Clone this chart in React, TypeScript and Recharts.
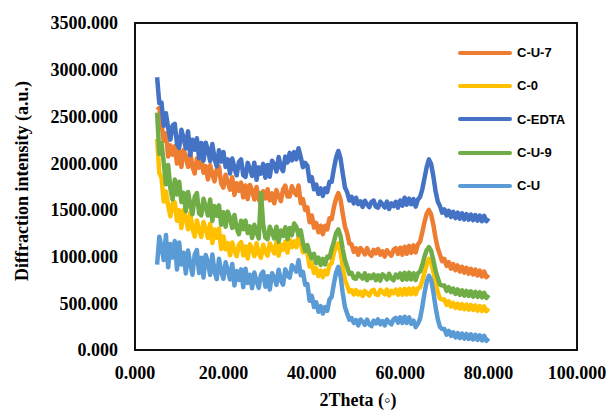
import React from "react";
import { LineChart, Line, XAxis, YAxis, ReferenceArea } from "recharts";

// 2theta sampling grid (degrees)
const THETA = [
  5, 5.5, 6, 6.5, 7, 7.5, 8, 8.5, 9, 9.5,
  10, 10.5, 11, 11.5, 12, 12.5, 13, 13.5, 14, 14.5,
  15, 15.5, 16, 16.5, 17, 17.5, 18, 18.5, 19, 19.5,
  20, 20.5, 21, 21.5, 22, 22.5, 23, 23.5, 24, 24.5,
  25, 25.5, 26, 26.5, 27, 27.5, 28, 28.5, 29, 29.5,
  30, 30.5, 31, 31.5, 32, 32.5, 33, 33.5, 34, 34.5,
  35, 35.5, 36, 36.5, 37, 37.5, 38, 38.5, 39, 39.5,
  40, 40.5, 41, 41.5, 42, 42.5, 43, 43.5, 44, 44.5,
  45, 45.5, 46, 46.5, 47, 47.5, 48, 48.5, 49, 49.5,
  50, 50.5, 51, 51.5, 52, 52.5, 53, 53.5, 54, 54.5,
  55, 55.5, 56, 56.5, 57, 57.5, 58, 58.5, 59, 59.5,
  60, 60.5, 61, 61.5, 62, 62.5, 63, 63.5, 64, 64.5,
  65, 65.5, 66, 66.5, 67, 67.5, 68, 68.5, 69, 69.5,
  70, 70.5, 71, 71.5, 72, 72.5, 73, 73.5, 74, 74.5,
  75, 75.5, 76, 76.5, 77, 77.5, 78, 78.5, 79, 79.5,
  80,
];

const C_U_7 = [
  2570, 2590, 2420, 2240, 2320, 2070, 2190, 2090, 2180, 1995,
  2130, 1960, 2140, 2070, 1960, 2115, 1960, 1890, 2050, 1950,
  2055, 1898, 1968, 1825, 1977, 1881, 1805, 1937, 1965, 1783,
  1738, 1876, 1798, 1716, 1850, 1660, 1785, 1703, 1792, 1634,
  1761, 1615, 1767, 1706, 1611, 1745, 1616, 1560, 1700, 1623,
  1720, 1602, 1677, 1570, 1711, 1644, 1593, 1720, 1760, 1642,
  1644, 1753, 1694, 1658, 1760, 1570, 1615, 1499, 1526, 1367,
  1440, 1310, 1360, 1260, 1330, 1240, 1330, 1290, 1410, 1400,
  1530, 1620, 1680, 1610, 1460, 1320, 1250, 1140, 1130, 1050,
  1089, 1020, 1091, 1064, 1022, 1090, 1034, 1008, 1073, 1034,
  1080, 1020, 1056, 1000, 1068, 1034, 1009, 1072, 1090, 1028,
  1095, 1020, 1105, 1030, 1115, 1040, 1120, 1045, 1130, 1160,
  1260, 1370, 1460, 1500, 1450, 1340, 1200, 1090, 1020, 950,
  975, 900, 940, 870, 920, 855, 905, 840, 890, 828,
  880, 818, 870, 808, 860, 798, 850, 788, 840, 780,
  805,
];

const C_0 = [
  2260, 1895, 1844, 1590, 1697, 1548, 1431, 1566, 1580, 1384,
  1496, 1305, 1499, 1418, 1293, 1465, 1296, 1215, 1387, 1278,
  1210, 1370, 1290, 1200, 1350, 1145, 1290, 1200, 1300, 1080,
  1215, 1078, 1144, 1015, 1150, 1068, 1004, 1126, 1155, 1014,
  1108, 980, 1132, 1084, 1004, 1142, 1033, 988, 1126, 1054,
  1010, 1140, 1090, 1033, 1155, 1010, 1128, 1073, 1160, 1043,
  1180, 1100, 1164, 1100, 1222, 1148, 1046, 1076, 1040, 894,
  930, 825, 875, 790, 850, 780, 850, 810, 910, 930,
  1040, 1110, 1140, 1050, 890, 750, 690, 625, 640, 595,
  642, 594, 623, 578, 632, 605, 583, 631, 644, 595,
  589, 644, 621, 596, 647, 584, 634, 609, 646, 591,
  650, 592, 655, 594, 658, 598, 660, 598, 660, 670,
  740, 830, 920, 975, 940, 840, 710, 620, 550, 540,
  540, 482, 520, 465, 505, 450, 495, 442, 490, 436,
  486, 432, 482, 428, 476, 422, 470, 418, 466, 415,
  445,
];

const C_EDTA = [
  2920, 2640, 2648, 2400, 2534, 2376, 2252, 2402, 2420, 2208,
  2164, 2358, 2264, 2158, 2340, 2085, 2250, 2144, 2266, 2052,
  2216, 2025, 2219, 2143, 2023, 2205, 2046, 1965, 2137, 2018,
  2120, 1960, 2040, 1890, 2050, 1950, 1870, 2010, 2040, 1870,
  1853, 2003, 1938, 1864, 2005, 1822, 1955, 1888, 1992, 1844,
  1981, 1855, 2026, 1986, 1910, 2065, 1956, 1915, 2070, 2008,
  2110, 2030, 2118, 2040, 2159, 2066, 1957, 2002, 1970, 1808,
  1850, 1720, 1770, 1670, 1730, 1650, 1730, 1690, 1800, 1800,
  1940, 2060, 2130, 2050, 1890, 1740, 1690, 1600, 1640, 1570,
  1630, 1562, 1591, 1532, 1598, 1559, 1529, 1586, 1600, 1533,
  1523, 1588, 1558, 1525, 1588, 1509, 1570, 1540, 1587, 1524,
  1600, 1545, 1630, 1555, 1620, 1560, 1615, 1535, 1610, 1640,
  1720, 1840, 1960, 2040, 1990, 1860, 1700, 1590, 1540, 1470,
  1505, 1440, 1490, 1425, 1478, 1412, 1472, 1405, 1462, 1398,
  1455, 1395, 1450, 1390, 1445, 1385, 1440, 1380, 1435, 1378,
  1410,
];

const C_U_9 = [
  2540, 2100, 2215, 2005, 1775, 1980, 1730, 1610, 1825, 1665,
  1800, 1585, 1682, 1485, 1691, 1559, 1453, 1638, 1680, 1462,
  1442, 1619, 1532, 1439, 1610, 1382, 1540, 1437, 1548, 1341,
  1474, 1320, 1481, 1412, 1307, 1445, 1304, 1240, 1383, 1292,
  1385, 1252, 1324, 1200, 1340, 1258, 1194, 1680, 1345, 1204,
  1186, 1320, 1261, 1194, 1320, 1160, 1280, 1221, 1314, 1188,
  1306, 1230, 1354, 1318, 1228, 1280, 1146, 1060, 1122, 1038,
  980, 1030, 930, 990, 910, 975, 915, 1000, 990, 1080,
  1160, 1250, 1290, 1220, 1080, 960, 890, 815, 825, 770,
  762, 818, 792, 764, 820, 747, 798, 770, 808, 748,
  799, 743, 810, 790, 756, 815, 766, 746, 807, 776,
  820, 752, 825, 755, 828, 755, 822, 750, 822, 840,
  910, 1000, 1070, 1100, 1060, 960, 850, 770, 700, 690,
  690, 632, 672, 620, 658, 600, 648, 590, 638, 582,
  632, 578, 628, 572, 622, 568, 618, 562, 612, 558,
  590,
];

const C_U = [
  914, 1213, 1104, 963, 1230, 885, 1135, 989, 1166, 862,
  1150, 915, 1040, 820, 1065, 920, 805, 1020, 1070, 825,
  988, 775, 1017, 937, 804, 1022, 838, 758, 976, 844,
  762, 939, 852, 754, 920, 690, 845, 749, 863, 673,
  870, 718, 805, 662, 830, 738, 665, 808, 840, 677,
  789, 647, 821, 777, 697, 860, 744, 700, 863, 797,
  774, 908, 874, 838, 960, 800, 835, 699, 706, 527,
  580, 460, 510, 410, 470, 390, 460, 420, 540, 570,
  710, 830, 890, 790, 610, 460, 390, 325, 340, 290,
  321, 262, 327, 304, 268, 326, 276, 255, 315, 284,
  327, 275, 309, 262, 325, 295, 274, 329, 345, 293,
  350, 290, 356, 290, 350, 280, 315, 245, 280, 335,
  460, 610, 730, 795, 750, 620, 460, 330, 245, 225,
  225, 165, 205, 150, 190, 135, 182, 128, 176, 122,
  172, 118, 168, 112, 162, 108, 158, 102, 152, 98,
  125,
];

const X_TICKS = [0, 20, 40, 60, 80, 100];
const Y_TICKS = [0, 500, 1000, 1500, 2000, 2500, 3000, 3500];

const SERIES = [
  { key: "cu7", name: "C-U-7", color: "#ED7D31", values: C_U_7 },
  { key: "c0", name: "C-0", color: "#FFC000", values: C_0 },
  { key: "edta", name: "C-EDTA", color: "#4472C4", values: C_EDTA },
  { key: "cu9", name: "C-U-9", color: "#70AD47", values: C_U_9 },
  { key: "cu", name: "C-U", color: "#5B9BD5", values: C_U },
];

const data = THETA.map((t, i) => {
  const row: Record<string, number> = { theta: t };
  SERIES.forEach((s) => {
    row[s.key] = s.values[i];
  });
  return row;
});

const serif = "'Liberation Serif', serif";
const tickStyle = { fill: "#000", fontSize: 18, fontWeight: 700, fontFamily: serif };

export default function App() {
  return (
    <div style={{ position: "relative", width: 610, height: 414, background: "#fff" }}>
      <style>{`body { margin: 0; }`}</style>
      <LineChart width={610} height={414} data={data} margin={{ top: 23, right: 33, left: 15, bottom: 4 }}>
        <XAxis
          dataKey="theta"
          type="number"
          domain={[0, 100]}
          ticks={X_TICKS}
          tickFormatter={(v: number) => v.toFixed(3)}
          axisLine={false}
          tickLine={false}
          tick={tickStyle}
          tickMargin={10}
          height={60}
          interval={0}
        />
        <YAxis
          type="number"
          domain={[0, 3500]}
          ticks={Y_TICKS}
          tickFormatter={(v: number) => v.toFixed(3)}
          axisLine={false}
          tickLine={false}
          tick={tickStyle}
          tickMargin={11}
          width={120}
          interval={0}
        />
        {SERIES.map((s) => (
          <Line
            key={s.key}
            dataKey={s.key}
            name={s.name}
            type="linear"
            stroke={s.color}
            strokeWidth={4.5}
            strokeLinejoin="round"
            dot={false}
            activeDot={false}
            isAnimationActive={false}
          />
        ))}
        <ReferenceArea x1={0} x2={100} y1={0} y2={3500} fill="none" stroke="#111" strokeWidth={2} />
      </LineChart>

      {/* legend inside plot area */}
      <div style={{ position: "absolute", left: 458, top: 36, fontFamily: "'Liberation Sans', Arial, sans-serif" }}>
        {SERIES.map((s) => (
          <div key={s.key} style={{ display: "flex", alignItems: "center", height: 33.3 }}>
            <div style={{ width: 54, height: 4, borderRadius: 2, background: s.color, marginRight: 5 }} />
            <span style={{ fontSize: 13, fontWeight: 700, color: "#000" }}>{s.name}</span>
          </div>
        ))}
      </div>

      <div
        style={{
          position: "absolute",
          left: 22,
          top: 181,
          transform: "translate(-50%, -50%) rotate(-90deg)",
          whiteSpace: "nowrap",
          fontFamily: serif,
          fontWeight: 700,
          fontSize: 18,
          color: "#000",
        }}
      >
        Diffraction intensity (a.u.)
      </div>
      <div
        style={{
          position: "absolute",
          left: 358,
          top: 400,
          transform: "translate(-50%, -50%)",
          whiteSpace: "nowrap",
          fontFamily: serif,
          fontWeight: 700,
          fontSize: 18,
          color: "#000",
        }}
      >
        2Theta (◦)
      </div>
    </div>
  );
}
